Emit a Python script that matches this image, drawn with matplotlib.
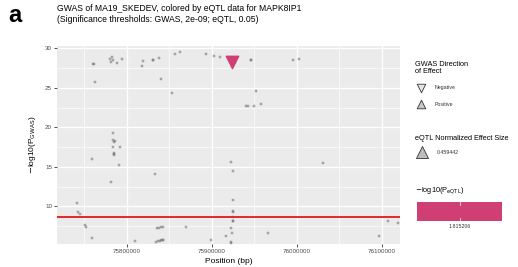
import math
import matplotlib
matplotlib.use('Agg')
import matplotlib.pyplot as plt
from matplotlib.ticker import MultipleLocator, FixedLocator

plt.rcParams['font.family'] = ['Liberation Sans', 'DejaVu Sans']

# GWAS SNPs: position (bp) and -log10(P_GWAS)
pos = [75759650, 75761000, 75762350, 75780000, 75782350, 75783530, 75781500, 75787880,
       75793760, 75817290, 75819180, 75830240, 75830240, 75838000, 75839650, 75852590,
       75856470, 75862350, 75783180, 75783880, 75784500, 75786000, 75783880, 75791760,
       75784710, 75784710, 75784710, 75758470, 75790590, 75832940, 75781180, 75741530,
       75742710, 75744710, 75750590, 75751760, 75759180, 75809410, 75835290, 75837500,
       75839800, 75842350, 75834000, 75836500, 75838500, 75840500, 75842350, 75842350,
       75869060, 75892590, 75902350, 75909410, 75945530, 75945530, 75994940, 76002710,
       75951760, 75940000, 75942710, 75949760, 75957290, 75922350, 76030240, 75924350,
       75925060, 75924350, 75924350, 75924350, 75925060, 75925060, 75922000, 75923180,
       75916120, 75898470, 75922000, 75922000, 75965530, 76096120, 76107410, 76119180]
nlp = [28.0, 28.05, 25.7, 28.7, 28.9, 28.5, 28.3, 28.2,
       28.6, 27.8, 28.4, 28.5, 28.5, 28.8, 26.1, 24.4,
       29.3, 29.5, 19.3, 18.4, 18.2, 18.3, 17.5, 17.5,
       16.6, 16.7, 16.5, 16.0, 15.3, 14.1, 13.1, 10.4,
       9.35, 9.1, 7.65, 7.4, 6.0, 5.6, 7.3, 7.3,
       7.4, 7.45, 5.5, 5.6, 5.65, 5.7, 5.8, 5.75,
       7.4, 29.3, 29.0, 28.9, 28.5, 28.5, 28.5, 28.7,
       24.6, 22.7, 22.7, 22.7, 22.9, 15.6, 15.5, 14.5,
       10.8, 9.35, 9.4, 8.7, 8.1, 8.15, 7.3, 6.7,
       6.2, 5.8, 5.4, 5.45, 6.7, 6.2, 8.2, 7.95]

# SNP with eQTL data
eqtl_pos = [75923180]
eqtl_nlp = [28.3]
eqtl_effect = [0.459442]
eqtl_nlp_eqtl = [1.815206]

gwas_threshold = 2e-09

pink = '#CF3F73'

fig = plt.figure(figsize=(5.18, 2.67), dpi=100)
ax = fig.add_axes([57/518, 23/267, 343/518, 198/267])
ax.set_facecolor('#EBEBEB')
for s in ax.spines.values():
    s.set_visible(False)
ax.set_xlim(75717650, 76121180)
ax.set_ylim(5.25, 30.3)
ax.xaxis.set_major_locator(FixedLocator([75800000, 75900000, 76000000, 76100000]))
ax.xaxis.set_minor_locator(FixedLocator([75750000, 75850000, 75950000, 76050000]))
ax.yaxis.set_major_locator(FixedLocator([10, 15, 20, 25, 30]))
ax.yaxis.set_minor_locator(MultipleLocator(2.5))
ax.set_xticklabels(['75800000', '75900000', '76000000', '76100000'])
ax.grid(which='major', color='white', lw=0.9)
ax.grid(which='minor', color='white', lw=0.45)
ax.set_axisbelow(True)
ax.tick_params(which='major', length=2, width=0.6, color='#333333', labelsize=4.5,
               labelcolor='#4D4D4D', pad=1.5)
ax.tick_params(which='minor', length=0)

ax.scatter(pos, nlp, marker='s', s=3.5, facecolor='#909090', edgecolor='#3A3A3A',
           linewidths=0.3, alpha=0.5, zorder=3)
ax.axhline(-math.log10(gwas_threshold), color='#E0282A', lw=1.4, zorder=4)
ax.scatter(eqtl_pos, eqtl_nlp, marker='v', s=80, color=pink, edgecolor=pink, zorder=5)

ax.set_xlabel('Position (bp)', fontsize=6, labelpad=3)
ax.set_ylabel(r'$-$log10(P$_{\mathrm{GWAS}}$)', fontsize=6, labelpad=5)

fig.text(57/518, 1 - 14/267, 'GWAS of MA19_SKEDEV, colored by eQTL data for MAPK8IP1\n'
         '(Significance thresholds: GWAS, 2e-09; eQTL, 0.05)',
         fontsize=6.2, va='center', ha='left', linespacing=1.15)
fig.text(8/518, 1 - 16/267, 'a', fontsize=17, fontweight='bold', va='center', ha='left')

# legend panel
lg = fig.add_axes([0, 0, 1, 1], facecolor='none')
lg.set_xlim(0, 518)
lg.set_ylim(267, 0)
lg.axis('off')
lg.text(415, 68, 'GWAS Direction\nof Effect', fontsize=5.3, va='center', linespacing=1.1)
lg.scatter([421], [88], marker='v', s=38, facecolor='#E6E6E6', edgecolor='#333333', lw=0.6)
lg.text(435, 88, 'Negative', fontsize=3.8, va='center', color='#333333')
lg.scatter([421], [104], marker='^', s=38, facecolor='#C8C8C8', edgecolor='#333333', lw=0.6)
lg.text(435, 104, 'Positive', fontsize=3.8, va='center', color='#333333')
lg.text(415, 139, 'eQTL Normalized Effect Size', fontsize=5.3, va='center')
lg.scatter([422], [152], marker='^', s=75, facecolor='#BDBDBD', edgecolor='#333333', lw=0.6)
lg.text(437, 152, '%g' % eqtl_effect[0], fontsize=3.8, va='center', color='#333333')
lg.text(415, 191, r'$-$log10(P$_{\mathrm{eQTL}}$)', fontsize=5.3, va='center')
lg.add_patch(plt.Rectangle((417, 202), 85, 19, facecolor=pink, edgecolor='none'))
lg.plot([459.5, 459.5], [202, 205], color='white', lw=0.5)
lg.plot([459.5, 459.5], [218, 221], color='white', lw=0.5)
lg.text(459.5, 227, '%.6f' % eqtl_nlp_eqtl[0], fontsize=3.8, va='center', ha='center',
        color='#333333')

fig.savefig('out.png', dpi=100)
